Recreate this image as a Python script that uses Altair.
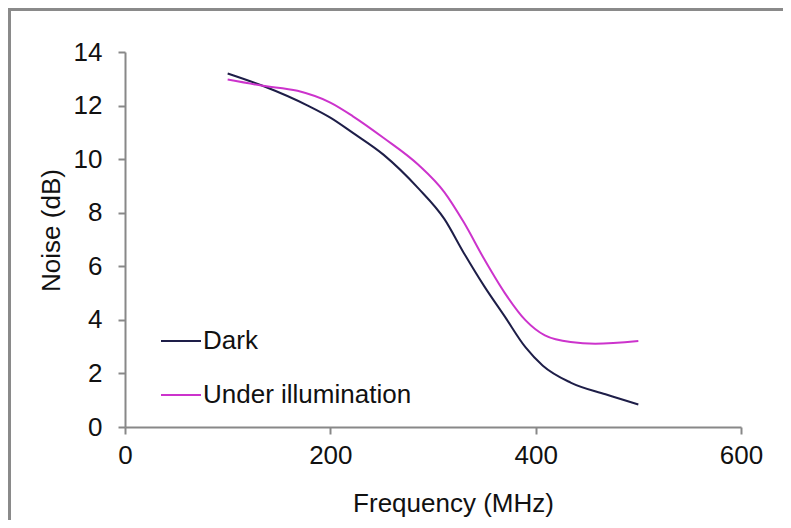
import altair as alt
import pandas as pd

series_names = ["Dark", "Under illumination"]
series_colors = ["#1e1e48", "#cc33cc"]

freq_dark = [100, 134, 178, 200, 222, 252, 286, 311, 330, 350, 370, 390, 407, 434, 468, 500]
noise_dark = [13.2, 12.74, 12.0, 11.55, 10.98, 10.16, 8.9, 7.77, 6.5, 5.25, 4.12, 2.98, 2.29, 1.66, 1.22, 0.84]

freq_light = [100, 134, 168, 200, 222, 252, 286, 311, 330, 350, 370, 390, 409, 434, 458, 500]
noise_light = [12.97, 12.74, 12.55, 12.11, 11.6, 10.79, 9.78, 8.77, 7.64, 6.26, 5.0, 3.99, 3.42, 3.17, 3.11, 3.21]

x_ticks = [0, 200, 400, 600]
y_ticks = [0, 2, 4, 6, 8, 10, 12, 14]

rows = []
for f, n in zip(freq_dark, noise_dark):
    rows.append({"freq": f, "noise": n, "series": series_names[0]})
for f, n in zip(freq_light, noise_light):
    rows.append({"freq": f, "noise": n, "series": series_names[1]})
df = pd.DataFrame(rows)

FONT = "Liberation Sans"

lines = alt.Chart(df).mark_line(interpolate="monotone", strokeWidth=2).encode(
    x=alt.X("freq:Q", scale=alt.Scale(domain=[0, 600], nice=False),
            axis=alt.Axis(values=x_ticks, title="Frequency (MHz)", labelFlush=False,
                          titleX=328, titleY=84, titleBaseline="alphabetic")),
    y=alt.Y("noise:Q", scale=alt.Scale(domain=[0, 14], nice=False),
            axis=alt.Axis(values=y_ticks, title="Noise (dB)", titleX=-61, titleY=178)),
    color=alt.Color("series:N",
                    scale=alt.Scale(domain=series_names, range=series_colors),
                    legend=alt.Legend(title=None, orient="none", legendX=35, legendY=268,
                                      symbolType="stroke", symbolSize=1600, symbolStrokeWidth=2,
                                      labelFontSize=26, labelFont=FONT, labelColor="#111",
                                      labelOffset=1, rowPadding=20, labelLimit=400)),
    detail="series:N",
)

border = alt.Chart(pd.DataFrame({"k": [0]})).mark_rect(
    fill=None, stroke="#8a8a8a", strokeWidth=3
).encode(
    x=alt.value(-115.5), x2=alt.value(720), y=alt.value(-42.5), y2=alt.value(520)
)

chart = alt.layer(border, lines).properties(
    width=616, height=375,
    autosize=alt.AutoSizeParams(type="none"),
    padding={"left": 117, "top": 44, "right": 42, "bottom": 93},
    background="white",
).configure_view(stroke=None).configure_axis(
    grid=False, domainColor="#888", domainWidth=2, tickColor="#888", tickWidth=2, tickSize=7,
    labelFont=FONT, labelFontSize=26, labelColor="#111", titleFont=FONT, titleFontSize=26,
    titleFontWeight="normal", titleColor="#111",
).configure_axisX(labelPadding=8).configure_axisY(labelPadding=16)

chart.save("out.html", embed_options={"renderer": "svg", "actions": False})
